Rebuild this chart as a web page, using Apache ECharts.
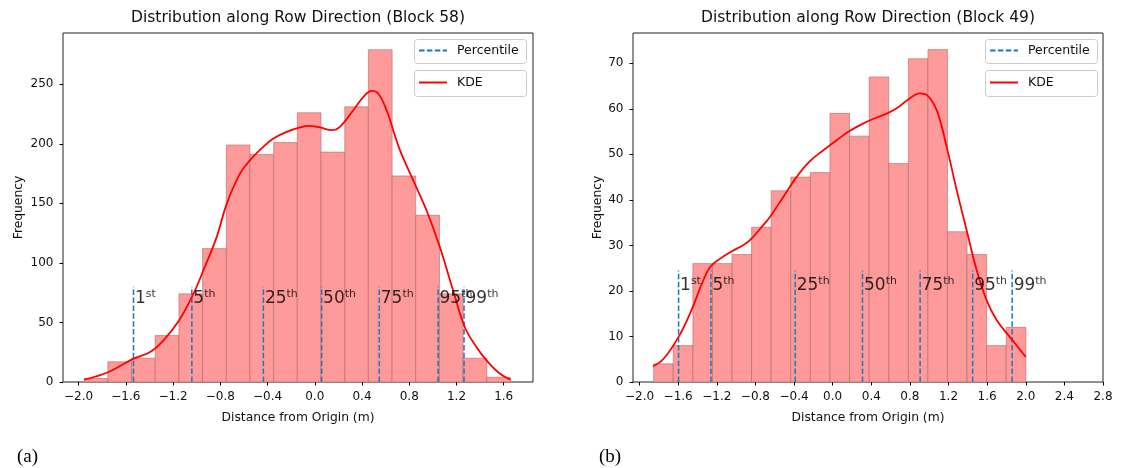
<!DOCTYPE html>
<html><head><meta charset="utf-8">
<script src="https://cdn.jsdelivr.net/npm/echarts@6/dist/echarts.min.js"></script>
<style>html,body{margin:0;padding:0;background:#fff}#c{width:1122px;height:468px}</style>
</head><body><div id="c"></div>
<script>
// ---------- data ----------
const leftEdges = [-1.952,-1.752,-1.551,-1.351,-1.150,-0.950,-0.749,-0.549,-0.348,-0.148,0.053,0.254,0.454,0.655,0.855,1.056,1.256,1.457,1.657];
const leftCounts = [3,17,20,39,74,112,199,191,201,226,193,231,279,173,140,74,20,4];
const rightEdges = [-1.854,-1.651,-1.448,-1.245,-1.042,-0.840,-0.637,-0.434,-0.231,-0.028,0.175,0.378,0.581,0.784,0.987,1.189,1.392,1.595,1.798,2.001];
const rightCounts = [4,8,26,26,28,34,42,45,46,59,54,67,48,71,73,33,28,8,12];

const leftKdeX = [-1.952,-1.746,-1.535,-1.394,-1.281,-1.148,-1.027,-0.943,-0.830,-0.745,-0.633,-0.548,-0.436,-0.351,-0.238,-0.125,-0.055,0.044,0.143,0.213,0.326,0.425,0.481,0.537,0.608,0.664,0.721,0.833,0.946,1.059,1.171,1.270,1.369,1.454,1.566,1.657];
const leftKdeY = [2.0,8.4,19.6,25.2,35.0,51.8,74.2,93.8,121.8,149.8,175.0,186.2,197.4,204.4,210.0,213.7,215.0,213.7,211.4,214.2,228.2,240.8,244.4,242.2,228.2,211.4,194.6,169.4,144.2,113.4,77.0,46.2,29.4,18.2,7.1,2.0];
const rightKdeX = [-1.861,-1.751,-1.596,-1.462,-1.354,-1.268,-1.165,-1.054,-0.924,-0.854,-0.717,-0.648,-0.510,-0.371,-0.241,-0.096,0.042,0.166,0.318,0.456,0.566,0.663,0.773,0.904,0.977,1.077,1.180,1.284,1.387,1.491,1.594,1.698,1.835,2.001];
const rightKdeY = [3.45,5.1,9.9,15.8,21.6,25.3,27.1,28.6,30.1,31.2,34.5,36.3,40.7,45.1,48.4,50.9,53.1,55.0,56.8,58.1,59.0,60.1,61.9,63.4,63.0,59.7,51.7,42.2,33.4,24.6,18.0,13.6,9.9,5.5];

const percentileNums = ['1','5','25','50','75','95','99'];
const percentileSuffix = ['st','th','th','th','th','th','th'];
const leftPercentiles = [-1.535,-1.041,-0.435,0.058,0.546,1.044,1.264];
const rightPercentiles = [-1.596,-1.261,-0.388,0.309,0.906,1.450,1.859];
const leftPercentileTop = 80;
const rightPercentileTop = 24.5;

const leftXTicks = [-2.0,-1.6,-1.2,-0.8,-0.4,0.0,0.4,0.8,1.2,1.6];
const rightXTicks = [-2.0,-1.6,-1.2,-0.8,-0.4,0.0,0.4,0.8,1.2,1.6,2.0,2.4,2.8];
const leftYTicks = [0,50,100,150,200,250];
const rightYTicks = [0,10,20,30,40,50,60,70];

const titles = ['Distribution along Row Direction (Block 58)','Distribution along Row Direction (Block 49)'];
const xName = 'Distance from Origin (m)';
const yName = 'Frequency';

// ---------- build ----------
const FONT = 'DejaVu Sans';
const G = [{left:63,top:33,width:470,height:349},{left:633,top:33,width:470,height:349}];

function histData(edges, counts){ return counts.map((c,i)=>[edges[i],edges[i+1],c]); }
function zip(xs, ys){ return xs.map((x,i)=>[x,ys[i]]); }
function pctLine(ps, top){ const d=[]; ps.forEach(p=>{d.push([p,0]);d.push([p,top]);d.push([p,'-']);}); return d; }
function pctLabels(ps, y){ return ps.map((p,i)=>({value:[p,y], num:percentileNums[i], suf:percentileSuffix[i]})); }

function histItem(params, api){
  const x0=api.value(0), x1=api.value(1), c=api.value(2);
  const a=api.coord([x0,c]), b=api.coord([x1,0]);
  return {type:'rect', shape:{x:a[0], y:a[1], width:b[0]-a[0], height:b[1]-a[1]},
    style:{fill:'#ff9a9a', stroke:'rgba(170,100,100,0.55)', lineWidth:1}};
}
const fmtX = v => (v<0?'\u2212':'') + Math.abs(v).toFixed(1);

function xAxis(i, min, max, ticks){
  return {type:'value', gridIndex:i, min, max, splitLine:{show:false}, axisLine:{show:false, onZero:false},
    axisTick:{show:true, length:3.5, lineStyle:{color:'#000'}, customValues:ticks},
    axisLabel:{color:'#111', fontSize:12, fontFamily:FONT, margin:9, customValues:ticks, formatter:fmtX},
    name:xName, nameLocation:'middle', nameGap:30, nameTextStyle:{color:'#111', fontSize:12.3, fontFamily:FONT}};
}
function yAxis(i, max, ticks, gap){
  return {type:'value', gridIndex:i, min:0, max, splitLine:{show:false}, axisLine:{show:false, onZero:false},
    axisTick:{show:true, length:3.5, lineStyle:{color:'#000'}, customValues:ticks},
    axisLabel:{color:'#111', fontSize:12, fontFamily:FONT, margin:9.5, customValues:ticks},
    name:yName, nameLocation:'middle', nameGap:gap, nameTextStyle:{color:'#111', fontSize:12.3, fontFamily:FONT}};
}
function seriesFor(i, edges, counts, kx, ky, ps, top, labY){
  return [
    {type:'custom', xAxisIndex:i, yAxisIndex:i, renderItem:histItem, data:histData(edges,counts), encode:{x:[0,1], y:2}, z:1, silent:true},
    {type:'line', name:'Percentile', xAxisIndex:i, yAxisIndex:i, data:pctLine(ps, top), symbol:'none', connectNulls:false,
      lineStyle:{color:'#1f77b4', width:1.5, type:[5.5,2.4]}, itemStyle:{color:'#1f77b4'}, z:3, silent:true},
    {type:'line', name:'KDE', xAxisIndex:i, yAxisIndex:i, data:zip(kx,ky), symbol:'none', smooth:0.4,
      lineStyle:{color:'#ff0000', width:1.8}, itemStyle:{color:'#ff0000'}, z:4, silent:true},
    {type:'scatter', xAxisIndex:i, yAxisIndex:i, data:pctLabels(ps, labY), symbolSize:1, itemStyle:{color:'rgba(0,0,0,0)'}, z:5, silent:true,
      label:{show:true, position:'right', distance:1, align:'left', verticalAlign:'middle',
        formatter:p=>'{n|'+p.data.num+'}{s|'+p.data.suf+'}',
        rich:{n:{fontSize:17, fontFamily:FONT, color:'#000', lineHeight:20},
              s:{fontSize:11, fontFamily:FONT, color:'#000', lineHeight:12, verticalAlign:'top'}}}}
  ];
}
function legend(name, left, top){
  return {data:[name], left, top, orient:'vertical', padding:[5,0,5,4], itemWidth:28, itemHeight:14,
    selectedMode:false, z:20, itemStyle:{opacity:0, color:'rgba(0,0,0,0)', borderWidth:0},
    textStyle:{fontSize:12.5, fontFamily:FONT, color:'#111', padding:[0,0,0,5]}};
}
function box(x, y, w, h){
  return {type:'rect', z:10, shape:{x, y, width:w, height:h, r:3}, style:{fill:'rgba(255,255,255,0.9)', stroke:'#cccccc', lineWidth:1}};
}

const option = {
  animation:false,
  backgroundColor:'#fff',
  grid: G.map(g=>Object.assign({show:true, borderColor:'#222', borderWidth:1, backgroundColor:'transparent', containLabel:false}, g)),
  xAxis:[xAxis(0,-2.132,1.848,leftXTicks), xAxis(1,-2.068,2.8,rightXTicks)],
  yAxis:[yAxis(0,293,leftYTicks,38), yAxis(1,76.65,rightYTicks,29)],
  legend:[legend('Percentile',414,39), legend('KDE',414,71), legend('Percentile',985,39), legend('KDE',985,71)],
  series:[].concat(
    seriesFor(0,leftEdges,leftCounts,leftKdeX,leftKdeY,leftPercentiles,leftPercentileTop,70),
    seriesFor(1,rightEdges,rightCounts,rightKdeX,rightKdeY,rightPercentiles,rightPercentileTop,21.1)
  ),
  graphic:[
    box(414.5,39.5,112,24), box(414.5,70.5,112,26), box(985.5,39.5,112,24), box(985.5,70.5,112,26),
    {type:'text', x:298, y:18, style:{text:titles[0], font:'15.5px "DejaVu Sans"', fill:'#111', textAlign:'center', textVerticalAlign:'middle'}},
    {type:'text', x:868, y:18, style:{text:titles[1], font:'15.5px "DejaVu Sans"', fill:'#111', textAlign:'center', textVerticalAlign:'middle'}},
    {type:'text', x:17, y:457, style:{text:'(a)', font:'19px "Liberation Serif"', fill:'#000', textAlign:'left', textVerticalAlign:'middle'}},
    {type:'text', x:599, y:457, style:{text:'(b)', font:'19px "Liberation Serif"', fill:'#000', textAlign:'left', textVerticalAlign:'middle'}}
  ]
};
const chart = echarts.init(document.getElementById('c'), null, {renderer:'canvas'});
chart.setOption(option);
</script></body></html>
